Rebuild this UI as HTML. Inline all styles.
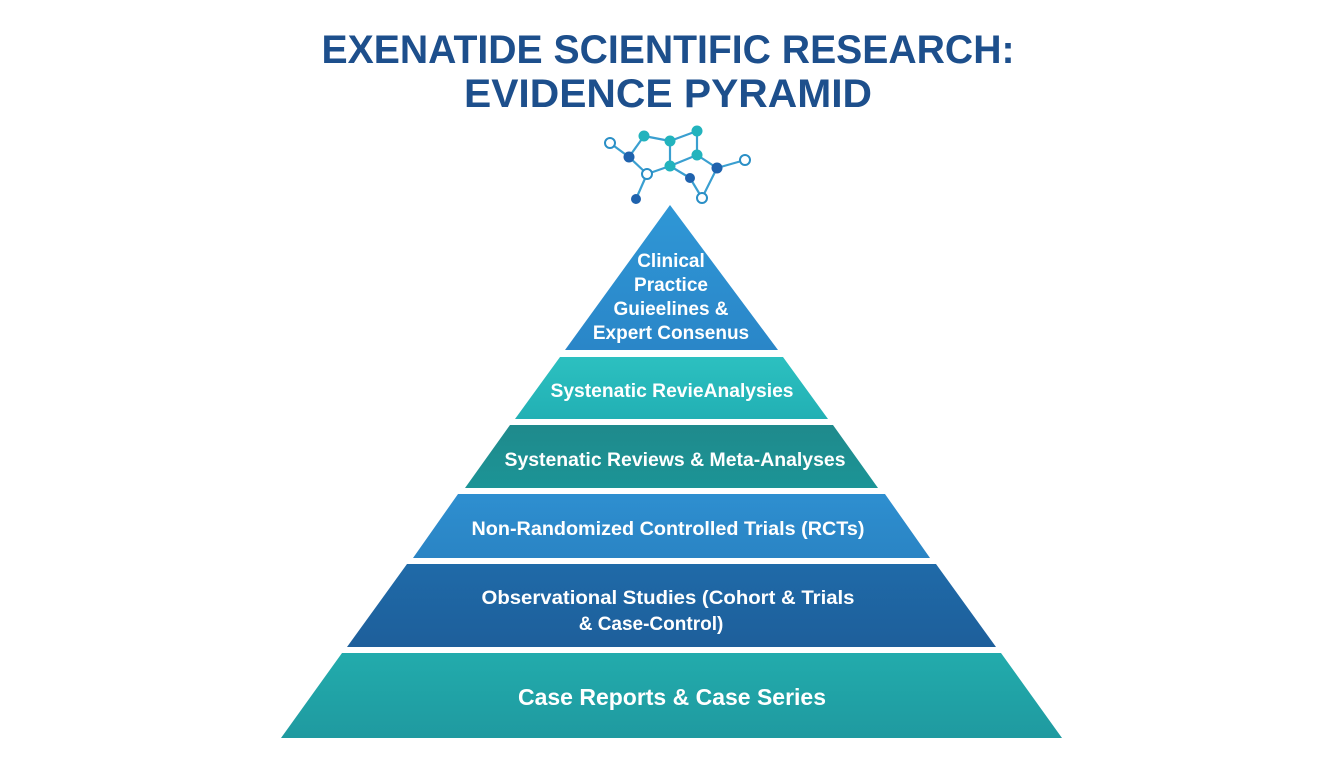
<!DOCTYPE html>
<html><head><meta charset="utf-8"><style>
html,body{margin:0;padding:0;background:#fff;}
svg{display:block;}
text{font-family:"Liberation Sans",Arial,sans-serif;font-weight:bold;}
</style></head><body>
<svg width="1344" height="768" viewBox="0 0 1344 768" xmlns="http://www.w3.org/2000/svg">
<defs>
<linearGradient id="g1" x1="0" y1="0" x2="0" y2="1"><stop offset="0" stop-color="#2f97d6"/><stop offset="1" stop-color="#2a86c8"/></linearGradient>
<linearGradient id="g2" x1="0" y1="0" x2="0" y2="1"><stop offset="0" stop-color="#2cc0c0"/><stop offset="1" stop-color="#22b0b4"/></linearGradient>
<linearGradient id="g3" x1="0" y1="0" x2="0" y2="1"><stop offset="0" stop-color="#1f8a8c"/><stop offset="1" stop-color="#1c9496"/></linearGradient>
<linearGradient id="g4" x1="0" y1="0" x2="0" y2="1"><stop offset="0" stop-color="#2e8fd0"/><stop offset="1" stop-color="#2a84c4"/></linearGradient>
<linearGradient id="g5" x1="0" y1="0" x2="0" y2="1"><stop offset="0" stop-color="#1f6aa8"/><stop offset="1" stop-color="#1e5f9b"/></linearGradient>
<linearGradient id="g6" x1="0" y1="0" x2="0" y2="1"><stop offset="0" stop-color="#22abac"/><stop offset="1" stop-color="#1f9aa0"/></linearGradient>
</defs>
<text x="668" y="63" font-size="40" fill="#1d4f8c" text-anchor="middle" textLength="693" lengthAdjust="spacingAndGlyphs">EXENATIDE SCIENTIFIC RESEARCH:</text>
<text x="668" y="107" font-size="40" fill="#1d4f8c" text-anchor="middle" textLength="408" lengthAdjust="spacingAndGlyphs">EVIDENCE PYRAMID</text>

<g stroke="#3a9fd0" stroke-width="2.2" fill="none">
<line x1="610" y1="143" x2="629" y2="157"/><line x1="629" y1="157" x2="644" y2="136"/>
<line x1="644" y1="136" x2="670" y2="141"/><line x1="670" y1="141" x2="697" y2="131"/>
<line x1="697" y1="131" x2="697" y2="155"/><line x1="697" y1="155" x2="670" y2="166"/>
<line x1="670" y1="141" x2="670" y2="166"/><line x1="629" y1="157" x2="647" y2="174"/>
<line x1="647" y1="174" x2="670" y2="166"/><line x1="647" y1="174" x2="636" y2="199"/>
<line x1="670" y1="166" x2="690" y2="178"/><line x1="690" y1="178" x2="702" y2="198"/>
<line x1="702" y1="198" x2="717" y2="168"/><line x1="697" y1="155" x2="717" y2="168"/>
<line x1="717" y1="168" x2="745" y2="160"/>
</g>
<g fill="#fff" stroke="#2a8fc6" stroke-width="2">
<circle cx="610" cy="143" r="5"/><circle cx="647" cy="174" r="5"/><circle cx="745" cy="160" r="5"/><circle cx="702" cy="198" r="5"/>
</g>
<g fill="#1f62ad">
<circle cx="629" cy="157" r="5.5"/><circle cx="636" cy="199" r="5"/><circle cx="717" cy="168" r="5.5"/><circle cx="690" cy="178" r="5"/>
</g>
<g fill="#22b3bd">
<circle cx="644" cy="136" r="5.5"/><circle cx="670" cy="141" r="5.5"/><circle cx="697" cy="131" r="5.5"/><circle cx="697" cy="155" r="5.5"/><circle cx="670" cy="166" r="5.5"/>
</g>

<polygon points="670,205 778,350 565,350" fill="url(#g1)"/>
<polygon points="560,357 783,357 828,419 515,419" fill="url(#g2)"/>
<polygon points="510,425 833,425 878,488 465,488" fill="url(#g3)"/>
<polygon points="458,494 885,494 930,558 413,558" fill="url(#g4)"/>
<polygon points="407,564 936,564 996,647 347,647" fill="url(#g5)"/>
<polygon points="342,653 1001,653 1062,738 281,738" fill="url(#g6)"/>

<g fill="#fff" text-anchor="middle" font-size="19">
<text x="671" y="267">Clinical</text>
<text x="671" y="291">Practice</text>
<text x="671" y="315">Guieelines &amp;</text>
<text x="671" y="339">Expert Consenus</text>
<text x="672" y="397" textLength="243" lengthAdjust="spacingAndGlyphs">Systenatic RevieAnalysies</text>
<text x="675" y="466" textLength="341" lengthAdjust="spacingAndGlyphs">Systenatic Reviews &amp; Meta-Analyses</text>
<text x="668" y="535" textLength="393" lengthAdjust="spacingAndGlyphs">Non-Randomized Controlled Trials (RCTs)</text>
<text x="668" y="604" textLength="373" lengthAdjust="spacingAndGlyphs">Observational Studies (Cohort &amp; Trials</text>
<text x="651" y="630">&amp; Case-Control)</text>
<text x="672" y="705" font-size="23" textLength="308" lengthAdjust="spacingAndGlyphs">Case Reports &amp; Case Series</text>
</g>
</svg>
</body></html>
